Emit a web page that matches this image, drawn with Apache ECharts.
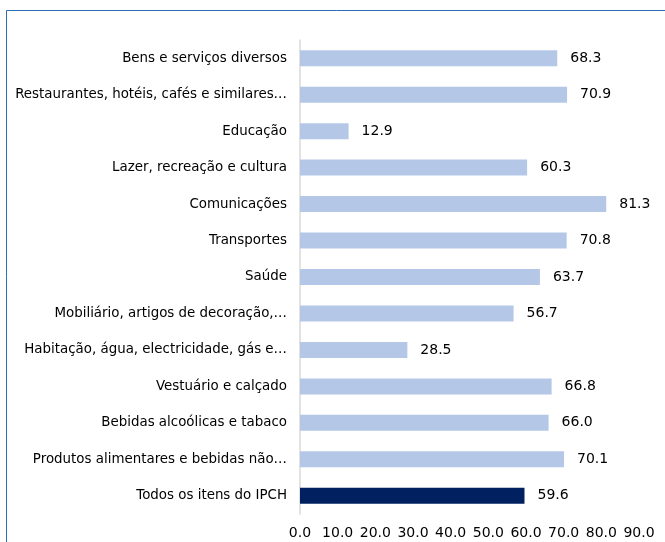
<!DOCTYPE html>
<html>
<head>
<meta charset="utf-8">
<script src="https://cdn.jsdelivr.net/npm/echarts@6/dist/echarts.min.js"></script>
<style>
  html, body { margin: 0; padding: 0; background: #fff; }
  #chart { width: 665px; height: 542px; }
</style>
</head>
<body>
<div id="chart"></div>
<script>
// categorias de baixo para cima (ordem do eixo de categorias)
const categories = [
  'Todos os itens do IPCH',
  'Produtos alimentares e bebidas não…',
  'Bebidas alcoólicas e tabaco',
  'Vestuário e calçado',
  'Habitação, água, electricidade, gás e…',
  'Mobiliário, artigos de decoração,…',
  'Saúde',
  'Transportes',
  'Comunicações',
  'Lazer, recreação e cultura',
  'Educação',
  'Restaurantes, hotéis, cafés e similares…',
  'Bens e serviços diversos'
]
const values = [59.6, 70.1, 66.0, 66.8, 28.5, 56.7, 63.7, 70.8, 81.3, 60.3, 12.9, 70.9, 68.3]

const FONT = 'DejaVu Sans'
const FS = 14

const chart = echarts.init(document.getElementById('chart'))

const option = {
  animation: false,
  // moldura azul do gráfico (cortada à direita e em baixo)
  graphic: [{
    type: 'rect',
    shape: { x: 6.5, y: 10.5, width: 700, height: 600 },
    style: { fill: 'none', stroke: '#2a6fb3', lineWidth: 1 }
  }],
  grid: { left: 300, right: 26, top: 40, bottom: 28 },
  xAxis: {
    type: 'value',
    min: 0,
    max: 90,
    interval: 10,
    splitLine: { show: false },
    axisLine: { show: false },
    axisTick: { show: false },
    axisLabel: {
      fontFamily: FONT,
      fontSize: FS,
      color: '#000',
      margin: 12,
      formatter: v => v.toFixed(1)
    }
  },
  yAxis: {
    type: 'category',
    data: categories,
    axisLine: { show: true, lineStyle: { color: '#d9d9d9', width: 1.5 } },
    axisTick: { show: false },
    axisLabel: {
      fontFamily: FONT,
      fontSize: 13.4,
      color: '#000',
      margin: 13
    }
  },
  series: [{
    type: 'bar',
    data: values.map((v, i) => ({
      value: v,
      itemStyle: { color: i === 0 ? '#002060' : '#b4c7e7' }
    })),
    barWidth: 16,
    label: {
      show: true,
      position: 'right',
      distance: 13,
      fontFamily: FONT,
      fontSize: FS,
      color: '#000',
      formatter: p => p.value.toFixed(1)
    }
  }]
}

chart.setOption(option)
</script>
</body>
</html>
